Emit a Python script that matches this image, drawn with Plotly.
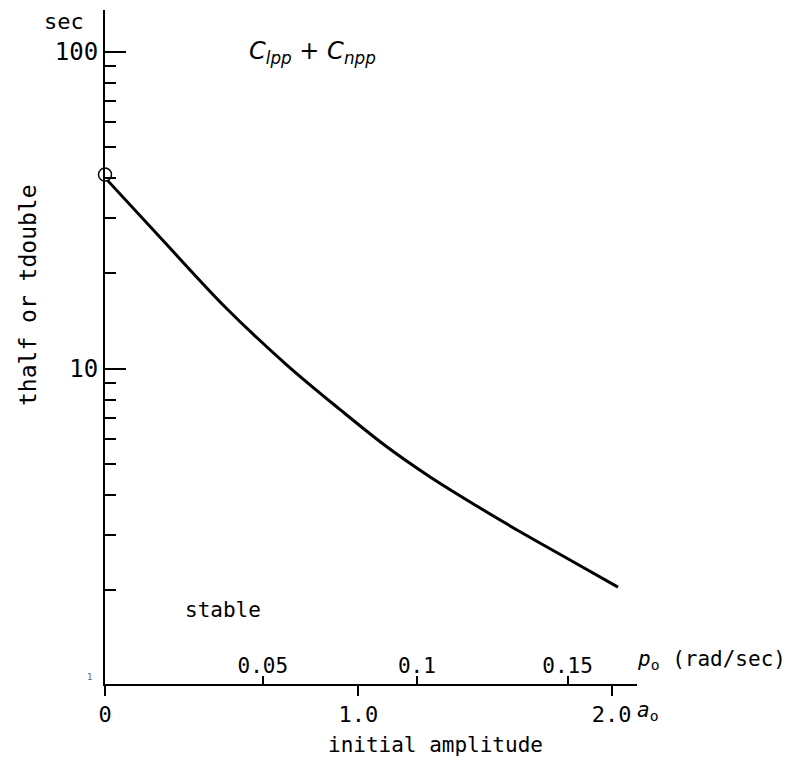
import plotly.graph_objects as go

# curve data
a0 = [0.0, 0.229, 0.473, 0.717, 0.927, 1.111, 1.282, 1.466, 1.637, 1.834, 2.025]
t_sec = [40.1, 25.4, 15.7, 10.3, 7.45, 5.69, 4.57, 3.70, 3.07, 2.50, 2.05]

start_a0 = [0.0]
start_t = [41.0]

a0_ticks = [0.0, 1.0, 2.0]
a0_labels = ["0", "1.0", "2.0"]
p0_tick_pos = [0.623, 1.231, 1.826]
p0_labels = ["0.05", "0.1", "0.15"]

y_major = [10, 100]
y_major_labels = ["10", "100"]
y_minor = [2, 3, 4, 5, 6, 7, 8, 9, 20, 30, 40, 50, 60, 70, 80, 90]

FONT = "DejaVu Sans Mono"
W, H = 791, 769
L, R, T, B = 105, 154, 10, 85
PW, PH = W - L - R, H - T - B

fig = go.Figure()
fig.add_trace(go.Scatter(x=a0, y=t_sec, mode="lines",
                         line=dict(color="black", width=3, shape="spline", smoothing=1.0),
                         showlegend=False, hoverinfo="skip"))
fig.add_trace(go.Scatter(x=start_a0, y=start_t, mode="markers",
                         marker=dict(symbol="circle", size=13, color="white", line=dict(color="black", width=1.5)),
                         cliponaxis=False, showlegend=False))
fig.add_trace(go.Scatter(x=[0, 2.1], y=[None, None], xaxis="x2", showlegend=False, hoverinfo="skip"))

fig.update_layout(
    width=W, height=H,
    margin=dict(l=L, r=R, t=T, b=B, autoexpand=False),
    paper_bgcolor="white", plot_bgcolor="white",
    font=dict(family=FONT, size=20, color="black"),
    xaxis=dict(range=[0, 2.1], automargin=False, showgrid=False, zeroline=False, showline=True,
               linecolor="black", linewidth=2,
               tickmode="array", tickvals=a0_ticks, ticktext=a0_labels, ticks="outside", ticklen=10,
               tickwidth=1.5, tickcolor="black", tickfont=dict(family=FONT, size=22, color="black")),
    xaxis2=dict(range=[0, 2.1], automargin=False, overlaying="x", anchor="y", side="bottom",
                showgrid=False, zeroline=False,
                showline=False, tickmode="array", tickvals=p0_tick_pos, ticktext=p0_labels,
                ticks="inside", ticklen=8, tickwidth=1.5, tickcolor="black",
                ticklabelposition="inside", tickfont=dict(family=FONT, size=21, color="black")),
    yaxis=dict(type="log", range=[0.006, 2.132], automargin=False, showgrid=False, zeroline=False,
               showline=True, linecolor="black", linewidth=2,
               tickmode="array", tickvals=y_major, ticktext=y_major_labels,
               ticks="inside", ticklen=21, tickwidth=1.5, tickcolor="black",
               tickfont=dict(family=FONT, size=24, color="black"),
               minor=dict(tickmode="array", tickvals=y_minor, ticks="inside", ticklen=11,
                          tickwidth=1.5, tickcolor="black", showgrid=False)),
)


def add_text(px, py, text, size=20, family=FONT, color="black", angle=0, xanchor="center"):
    fig.add_annotation(xref="paper", yref="paper", showarrow=False,
                       x=(px - L) / PW, y=(H - B - py) / PH, text=text,
                       font=dict(family=family, size=size, color=color),
                       textangle=angle, xanchor=xanchor, yanchor="middle")


add_text(64, 22, "sec", 22)
add_text(89, 677, "1", 9, color="#666")
add_text(312, 52, "<i>C<sub>lpp</sub></i> + <i>C<sub>npp</sub></i>", 24, family="DejaVu Sans")
add_text(223, 610, "stable", 21)
add_text(711, 660, "<i>p</i><sub>o</sub> (rad/sec)", 21)
add_text(635, 711, "<i>a</i><sub>o</sub>", 21, xanchor="left")
add_text(435, 745, "initial amplitude", 21)
add_text(28, 295, "thalf or tdouble", 23, angle=-90)

fig.write_html("out.html", config={"displayModeBar": False},
               post_script="document.body.style.margin='0';document.body.style.overflow='hidden';")
